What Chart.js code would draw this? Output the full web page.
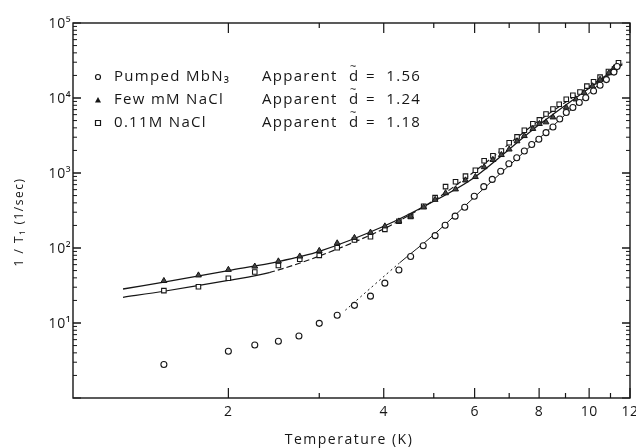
<!DOCTYPE html>
<html>
<head>
<meta charset="utf-8">
<script src="https://cdn.jsdelivr.net/npm/chart.js@4.4.1/dist/chart.umd.min.js"></script>
<style>
  html, body { margin: 0; padding: 0; background: #fff; }
</style>
</head>
<body>
<canvas id="chart" width="636" height="448"></canvas>
<script>
// --- axis ticks ---
const xTicks = [2, 3, 4, 5, 6, 7, 8, 9, 10, 11, 12];
const xTickLabels = ['2', '', '4', '', '6', '', '8', '', '10', '', '12'];
const yDecades = [10, 100, 1000, 10000, 100000];
const yDecadeLabels = ['10¹', '10²', '10³', '10⁴', '10⁵'];

// --- Pumped MbN3 (open circles) ---
const pumpedT = [1.50, 2.00, 2.25, 2.50, 2.74, 3.00, 3.25, 3.51, 3.77, 4.02, 4.28, 4.51, 4.77, 5.03, 5.26, 5.50,
  5.74, 5.99, 6.25, 6.49, 6.74, 6.99, 7.24, 7.49, 7.74, 7.99, 8.25, 8.51, 8.77, 9.03, 9.30, 9.57, 9.85, 10.2, 10.5, 10.8, 11.17, 11.33];
const pumpedV = [2.8, 4.2, 5.1, 5.7, 6.7, 9.9, 12.7, 17.2, 22.8, 34, 51, 77, 107, 146, 201, 266,
  349, 490, 658, 822, 1056, 1331, 1596, 1968, 2404, 2824, 3450, 4100, 5260, 6400, 7480, 8710, 10100, 12400, 14800, 17600, 22150, 26300];

// --- Few mM NaCl (filled triangles) ---
const fewT = [1.50, 1.75, 2.00, 2.25, 2.50, 2.75, 3.00, 3.25, 3.51, 3.77, 4.02, 4.28, 4.51, 4.78, 5.03, 5.27,
  5.51, 5.76, 6.02, 6.26, 6.51, 6.76, 7.00, 7.25, 7.49, 7.78, 8.01, 8.25, 8.51, 9.03, 9.43, 9.78, 10.15, 10.5, 10.92, 11.17];
const fewV = [36.5, 43.3, 51.4, 56.8, 66.6, 77.4, 91.9, 116, 137, 161, 195, 227, 263, 349, 441, 540,
  608, 800, 889, 1202, 1502, 1746, 2069, 2663, 3126, 3890, 4529, 4764, 5540, 7480, 9616, 11780, 14400, 17600, 21500, 25000];

// --- 0.11M NaCl (open squares) ---
const saltT = [1.50, 1.75, 2.00, 2.25, 2.50, 2.75, 3.00, 3.25, 3.51, 3.77, 4.02, 4.28, 4.51, 4.78, 5.03, 5.27,
  5.51, 5.76, 6.02, 6.26, 6.51, 6.76, 7.00, 7.25, 7.49, 7.78, 8.01, 8.25, 8.51, 8.75, 9.03, 9.30, 9.60, 9.90, 10.2, 10.5, 10.9, 11.2, 11.4];
const saltV = [27, 30.4, 39.5, 47.8, 58.5, 70.7, 79.8, 101, 128, 141, 177, 227, 263, 360, 470, 658,
  765, 908, 1088, 1458, 1694, 1968, 2530, 3033, 3709, 4529, 5105, 6120, 7117, 8250, 9616, 10900, 12000, 14400, 16500, 19000, 22500, 24300, 29500];

// --- fitted curves ---
const pumpedFitT = [3.37, 4.3, 5.0, 6.0, 8.25, 11.6];
const pumpedFitV = [14.8, 64, 150, 480, 3500, 29000];
const fewFitT = [1.25, 1.5, 2.0, 2.5, 3.0, 4.0, 5.0, 6.0, 8.0, 11.6];
const fewFitV = [28.4, 35, 50, 66, 90, 195, 420, 880, 4400, 28000];
const saltFitT = [1.25, 1.5, 2.0, 2.4, 3.0, 4.0, 5.0, 6.0, 8.0, 11.6];
const saltFitV = [22, 26.5, 37, 47, 78, 180, 430, 1050, 5000, 28000];

const INK = '#161616';
const FONT = '"Open Sans", "DejaVu Sans", sans-serif';

const pts = (xs, ys) => xs.map((x, i) => ({ x: x, y: ys[i] }));

// frame, inward ticks, tick labels, axis titles, legend
const decorations = {
  id: 'decorations',
  afterDraw(chart) {
    const c = chart.ctx, a = chart.chartArea;
    const xs = chart.scales.x, ys = chart.scales.y;
    c.save();
    c.strokeStyle = INK;
    c.fillStyle = INK;
    c.lineWidth = 1.4;
    c.strokeRect(a.left, a.top, a.right - a.left, a.bottom - a.top);

    // x ticks
    c.lineWidth = 1.2;
    c.font = '14px ' + FONT;
    c.letterSpacing = '0.5px';
    c.textAlign = 'center';
    c.textBaseline = 'middle';
    xTicks.forEach((v, i) => {
      const px = xs.getPixelForValue(v);
      const len = xTickLabels[i] ? 10 : 5;
      c.beginPath();
      c.moveTo(px, a.bottom); c.lineTo(px, a.bottom - len);
      c.moveTo(px, a.top); c.lineTo(px, a.top + len);
      c.stroke();
      if (xTickLabels[i]) c.fillText(xTickLabels[i], px, a.bottom + 14);
    });

    // y ticks (decades long, 2..9 short)
    c.lineWidth = 1;
    for (let d = 1; d < 100000; d *= 10) {
      for (let m = 1; m <= 10; m++) {
        const v = d * m;
        if (v > 100000) break;
        const py = ys.getPixelForValue(v);
        const len = (m === 1 || m === 10) ? 8 : 4;
        c.beginPath();
        c.moveTo(a.left, py); c.lineTo(a.left + len, py);
        c.moveTo(a.right, py); c.lineTo(a.right - len, py);
        c.stroke();
      }
    }
    c.textAlign = 'right';
    yDecades.forEach((v, i) => {
      c.fillText(yDecadeLabels[i], a.left - 2, ys.getPixelForValue(v) + 1);
    });

    // axis titles
    c.textAlign = 'center';
    c.font = '14px ' + FONT;
    c.letterSpacing = '1.5px';
    c.fillText('Temperature (K)', 349, 440);
    c.save();
    c.translate(20, 222);
    c.rotate(-Math.PI / 2);
    c.font = '12px ' + FONT;
    c.fillText('1 / T₁ (1/sec)', 0, 0);
    c.restore();

    // legend
    const rows = [
      { y: 77, name: 'Pumped MbN₃', d: '1.56', mark: 'circle' },
      { y: 100, name: 'Few mM NaCl', d: '1.24', mark: 'triangle' },
      { y: 123, name: '0.11M NaCl', d: '1.18', mark: 'rect' }
    ];
    c.textAlign = 'left';
    rows.forEach(r => {
      const mx = 98;
      c.lineWidth = 1.2;
      c.beginPath();
      if (r.mark === 'circle') {
        c.arc(mx, r.y, 2.5, 0, Math.PI * 2); c.stroke();
      } else if (r.mark === 'triangle') {
        c.moveTo(mx, r.y - 3); c.lineTo(mx + 3, r.y + 2.5); c.lineTo(mx - 3, r.y + 2.5); c.closePath(); c.fill();
      } else {
        c.rect(mx - 2.5, r.y - 2.5, 5, 5); c.stroke();
      }
      c.font = '15px ' + FONT;
      c.letterSpacing = '1.3px';
      c.fillText(r.name, 114, r.y);
      c.fillText('Apparent', 262, r.y);
      c.fillText('d', 349, r.y);
      c.fillText('=  ' + r.d, 366, r.y);
      c.font = '11px ' + FONT;
      c.letterSpacing = '0px';
      c.fillText('~', 350, r.y - 10);
    });
    c.restore();
  }
};

new Chart(document.getElementById('chart'), {
  type: 'scatter',
  data: {
    datasets: [
      {
        label: 'Pumped MbN₃',
        data: pts(pumpedT, pumpedV),
        pointStyle: 'circle', pointRadius: 3, borderWidth: 1.1,
        borderColor: INK, backgroundColor: '#fff', order: 0
      },
      {
        label: 'Few mM NaCl',
        data: pts(fewT, fewV),
        pointStyle: 'triangle', pointRadius: 3.4, borderWidth: 1,
        borderColor: INK, backgroundColor: '#444', order: 0
      },
      {
        label: '0.11M NaCl',
        data: pts(saltT, saltV),
        pointStyle: 'rect', pointRadius: 3.2, borderWidth: 1.1,
        borderColor: INK, backgroundColor: '#fff', order: 0
      },
      {
        type: 'line', label: 'fit MbN3',
        data: pts(pumpedFitT, pumpedFitV),
        borderColor: INK, borderWidth: 1, pointRadius: 0, tension: 0.3, fill: false, order: 1,
        segment: { borderDash: ctx => ctx.p0.parsed.x < 3.6 ? [2, 3] : undefined }
      },
      {
        type: 'line', label: 'fit few mM',
        data: pts(fewFitT, fewFitV),
        borderColor: INK, borderWidth: 1.3, pointRadius: 0, tension: 0.3, fill: false, order: 1
      },
      {
        type: 'line', label: 'fit 0.11M',
        data: pts(saltFitT, saltFitV),
        borderColor: INK, borderWidth: 1.2, pointRadius: 0, tension: 0.3, fill: false, order: 1,
        segment: { borderDash: ctx => ctx.p0.parsed.x >= 2.4 ? [6, 3] : undefined }
      }
    ]
  },
  options: {
    responsive: false,
    animation: false,
    layout: { padding: { left: 65, right: 6, top: 23, bottom: 42 } },
    plugins: { legend: { display: false }, tooltip: { enabled: false } },
    scales: {
      x: {
        type: 'logarithmic', min: 1, max: 12,
        ticks: { display: false }, grid: { display: false }, border: { display: false }
      },
      y: {
        type: 'logarithmic', min: 1, max: 100000,
        ticks: { display: false }, grid: { display: false }, border: { display: false }
      }
    }
  },
  plugins: [decorations]
});
</script>
</body>
</html>
